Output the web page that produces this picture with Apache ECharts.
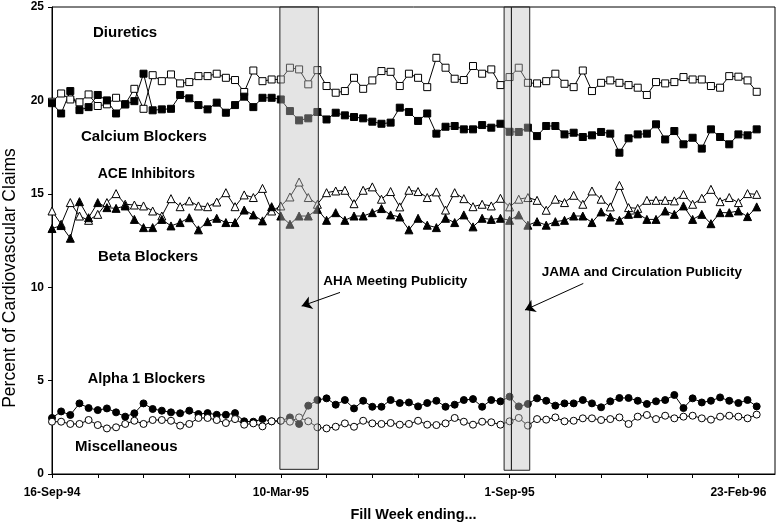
<!DOCTYPE html>
<html><head><meta charset="utf-8">
<script src="https://cdn.jsdelivr.net/npm/echarts@6/dist/echarts.min.js"></script>
<style>html,body{margin:0;padding:0;background:#fff}#c{width:777px;height:527px}</style>
</head><body><div id="c"></div>
<script>
// Week index (0 = week ending 16-Sep-94)
const weeks = [0,1,2,3,4,5,6,7,8,9,10,11,12,13,14,15,16,17,18,19,20,21,22,23,24,25,26,27,28,29,30,31,32,33,34,35,36,37,38,39,40,41,42,43,44,45,46,47,48,49,50,51,52,53,54,55,56,57,58,59,60,61,62,63,64,65,66,67,68,69,70,71,72,73,74,75,76,77];
const tickWeeks = [0,25,50,75];
const tickLabels = ['16-Sep-94','10-Mar-95','1-Sep-95','23-Feb-96'];
const minorTicks = [0,5,10,15,20,25,30,35,40,45,50,55,60,65,70,75];

const diuretics = [19.93,20.37,20.05,19.9,20.32,19.7,19.79,20.14,19.79,20.62,19.55,21.35,21.03,21.39,20.91,20.98,21.3,21.3,21.43,21.21,21.09,20.45,21.6,21.03,21.12,21.12,21.75,21.66,20.86,21.62,20.77,20.41,20.5,21.21,20.62,21.07,21.57,21.53,20.77,21.43,21.21,20.71,22.28,21.75,21.16,21.09,21.84,21.43,21.66,20.82,21.25,21.75,20.94,20.91,21.03,21.43,20.89,20.71,21.6,20.5,20.94,21.07,20.94,20.82,20.68,20.29,20.98,20.91,20.98,21.25,21.12,21.12,20.77,20.68,21.3,21.27,21.07,20.46];
const calcium = [19.85,19.3,20.5,19.48,19.64,20.29,20.0,19.3,19.79,19.96,21.43,19.47,19.52,19.55,20.29,20.11,19.75,19.52,19.88,19.34,19.75,20.2,19.64,20.14,20.14,20.05,19.43,18.93,19.04,19.38,18.98,19.34,19.2,19.11,19.04,18.86,18.75,18.81,19.61,19.38,18.9,19.3,18.22,18.59,18.63,18.45,18.45,18.68,18.54,18.75,18.32,18.31,18.54,18.09,18.63,18.63,18.18,18.27,18.04,18.13,18.31,18.22,17.2,17.97,18.18,18.22,18.72,17.91,18.36,17.65,18.0,17.42,18.45,18.04,17.65,18.18,18.13,18.45];
const ace = [14.08,13.37,14.53,13.81,13.58,13.9,14.53,15.01,14.44,14.4,14.35,14.08,13.81,14.74,14.31,14.62,14.35,14.31,14.56,15.06,14.31,14.94,14.8,15.29,14.08,14.35,14.83,15.63,14.8,14.44,15.06,15.15,15.19,14.47,15.19,15.37,14.71,15.12,14.3,15.19,15.12,14.8,15.1,14.13,15.06,14.74,14.31,14.44,14.35,14.76,14.3,14.71,14.8,14.65,14.12,14.71,14.53,14.92,14.44,15.15,14.71,14.3,15.45,14.26,14.22,14.65,14.65,14.65,14.62,14.97,14.44,14.76,15.24,14.58,14.8,14.53,15.01,14.97];
const beta = [13.14,13.3,12.62,14.58,13.72,14.53,14.26,14.22,14.35,13.63,13.19,13.19,13.63,13.28,13.46,13.72,13.07,13.51,13.69,13.46,13.46,14.13,13.87,13.55,14.31,13.81,13.37,13.81,13.81,14.17,13.58,13.99,13.58,13.81,13.81,13.99,14.21,13.87,13.76,13.07,13.69,13.32,13.19,13.69,13.46,13.87,13.23,13.69,13.63,13.69,13.58,13.87,13.32,13.51,13.32,13.51,13.58,13.81,13.81,13.46,14.03,13.76,13.58,13.9,13.94,13.63,13.63,14.08,13.9,14.35,13.63,13.9,13.4,13.99,13.99,14.08,13.78,14.3];
const alpha1 = [3.0,3.35,3.16,3.78,3.53,3.42,3.51,3.3,3.07,3.25,3.78,3.48,3.39,3.3,3.25,3.39,3.21,3.26,3.17,3.17,3.26,2.82,2.8,2.94,2.82,2.85,3.03,2.68,3.66,3.96,4.05,3.71,3.96,3.51,3.92,3.6,3.6,3.96,3.8,3.83,3.62,3.8,3.92,3.6,3.71,3.96,4.01,3.6,3.96,3.89,4.14,3.62,3.75,4.05,3.92,3.66,3.78,3.78,3.96,3.78,3.57,3.89,4.07,4.07,3.92,3.75,3.89,3.96,4.23,3.53,4.05,3.83,3.92,4.1,3.92,3.8,3.96,3.62];
const misc = [2.8,2.8,2.68,2.68,2.89,2.62,2.44,2.5,2.68,2.85,2.68,2.89,2.89,2.85,2.59,2.68,3.0,3.0,2.89,2.73,2.94,2.64,2.71,2.55,2.82,2.85,2.8,3.03,2.82,2.5,2.44,2.53,2.71,2.53,2.85,2.71,2.68,2.73,2.64,2.68,2.85,2.64,2.62,2.71,3.0,2.8,2.64,2.8,2.77,2.64,2.82,3.0,2.59,2.94,2.91,3.03,2.82,2.85,2.98,2.98,2.89,2.94,3.03,2.68,3.07,3.16,2.94,3.12,2.98,3.07,3.12,2.98,2.91,3.07,3.12,3.07,2.98,3.18];

// Publicity periods (in weeks)
const ahaPeriod = [24.9, 29.1];
const jamaPeriod = [49.4, 50.2, 52.2];

const FONT = "'Liberation Sans', Arial, sans-serif";

function mk(name, vals, symbol, open, size) {
  return {
    type: 'line', name: name,
    data: weeks.map((w, i) => [w, vals[i]]),
    symbol: symbol, symbolSize: size, showAllSymbol: true,
    lineStyle: { color: '#000', width: 1 },
    itemStyle: { color: open ? '#fff' : '#000', borderColor: '#000', borderWidth: 1 },
    emphasis: { disabled: true },
    z: 2
  };
}

const chart = echarts.init(document.getElementById('c'), null, { renderer: 'canvas' });
const areaStyle = { color: 'rgba(190,190,190,0.42)', borderColor: '#222', borderWidth: 1 };
chart.setOption({
  animation: false,
  backgroundColor: '#fff',
  grid: { left: 52, right: 2, top: 7, bottom: 50, show: true, borderColor: '#000', borderWidth: 1, backgroundColor: 'transparent' },
  xAxis: {
    type: 'value', min: 0, max: 79, interval: 5,
    name: 'Fill Week ending...', nameLocation: 'middle', nameGap: 33,
    nameTextStyle: { fontFamily: FONT, fontWeight: 'bold', fontSize: 14.5, color: '#000' },
    axisLine: { lineStyle: { color: '#000', width: 1 } },
    axisTick: { show: true, length: 4, lineStyle: { color: '#000' }, customValues: minorTicks },
    axisLabel: {
      customValues: tickWeeks, margin: 13,
      fontFamily: FONT, fontWeight: 'bold', fontSize: 12, color: '#000',
      formatter: v => { const k = tickWeeks.indexOf(v); return k >= 0 ? tickLabels[k] : ''; }
    },
    splitLine: { show: false }
  },
  yAxis: {
    type: 'value', min: 0, max: 25, interval: 5,
    axisLine: { show: true, lineStyle: { color: '#000', width: 1 } },
    axisTick: { show: true, length: 4, lineStyle: { color: '#000' } },
    axisLabel: { margin: 8, fontFamily: FONT, fontWeight: 'bold', fontSize: 12, color: '#000' },
    splitLine: { show: false }
  },
  series: [
    mk('Diuretics', diuretics, 'rect', true, 7),
    mk('Calcium Blockers', calcium, 'rect', false, 7),
    mk('ACE Inhibitors', ace, 'triangle', true, 8),
    mk('Beta Blockers', beta, 'triangle', false, 8),
    mk('Alpha 1 Blockers', alpha1, 'circle', false, 7),
    mk('Miscellaneous', misc, 'circle', true, 7),
    {
      type: 'line', name: 'events', data: [], z: 10, silent: true,
      markArea: {
        silent: true, z: 10,
        itemStyle: areaStyle,
        label: { show: false },
        data: [
          [{ xAxis: ahaPeriod[0], yAxis: 0.25 }, { xAxis: ahaPeriod[1], yAxis: 25 }],
          [{ xAxis: jamaPeriod[0], yAxis: 0.2 }, { xAxis: jamaPeriod[1], yAxis: 25 }],
          [{ xAxis: jamaPeriod[1], yAxis: 0.2 }, { xAxis: jamaPeriod[2], yAxis: 25 }]
        ]
      },
      markLine: {
        silent: true, z: 11,
        symbol: ['none', 'arrow'], symbolSize: 10,
        lineStyle: { color: '#000', width: 1, type: 'solid' },
        label: { show: false },
        data: [
          [{ coord: [31.47, 9.72] }, { coord: [27.28, 8.99] }],
          [{ coord: [58.05, 10.2] }, { coord: [51.68, 8.78] }]
        ]
      }
    }
  ],
  graphic: [
    { type: 'text', x: 10, y: 278, rotation: Math.PI / 2, style: { text: 'Percent of Cardiovascular Claims', x: 0, y: 0, textAlign: 'center', textVerticalAlign: 'middle', align: 'center', verticalAlign: 'middle', font: "17.5px " + FONT, fill: '#000' } },
    ...[
      ['Diuretics', 93, 32.5, 15],
      ['Calcium Blockers', 81, 136.7, 15],
      ['ACE Inhibitors', 97.7, 174.3, 14],
      ['Beta Blockers', 98, 256.7, 15],
      ['Alpha 1 Blockers', 87.7, 379.3, 14.5],
      ['Miscellaneous', 75, 447.3, 15],
      ['AHA Meeting Publicity', 323.3, 281.7, 13.5],
      ['JAMA and Circulation Publicity', 541.7, 272.7, 13.5]
    ].map(([t, x, y, fs]) => ({
      type: 'text', x: x, y: y, z: 100,
      style: { text: t, x: 0, y: 0, textAlign: 'left', textVerticalAlign: 'middle', align: 'left', verticalAlign: 'middle', font: "bold " + fs + "px " + FONT, fill: '#000' }
    }))
  ]
});
</script>
</body></html>
